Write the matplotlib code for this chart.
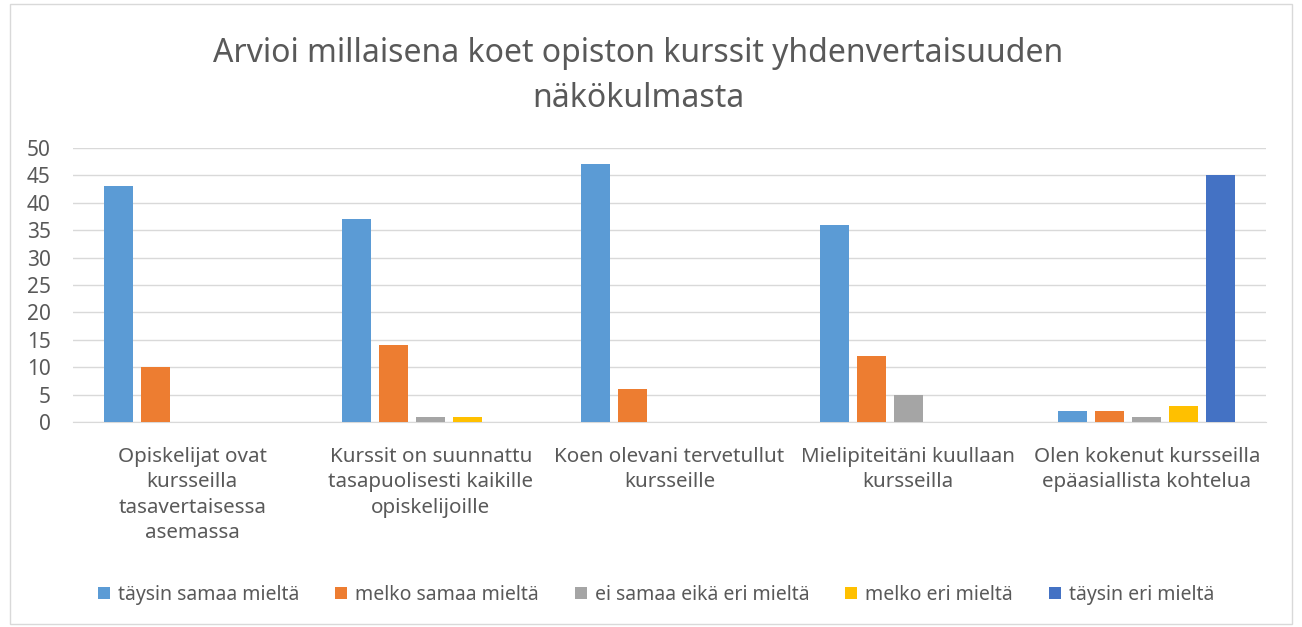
import matplotlib.pyplot as plt
import numpy as np
from matplotlib.patches import Rectangle

categories = [
    "Opiskelijat ovat\nkursseilla\ntasavertaisessa\nasemassa",
    "Kurssit on suunnattu\ntasapuolisesti kaikille\nopiskelijoille",
    "Koen olevani tervetullut\nkursseille",
    "Mielipiteitäni kuullaan\nkursseilla",
    "Olen kokenut kursseilla\nepäasiallista kohtelua",
]
series_names = [
    "täysin samaa mieltä",
    "melko samaa mieltä",
    "ei samaa eikä eri mieltä",
    "melko eri mieltä",
    "täysin eri mieltä",
]
taysin_samaa = [43, 37, 47, 36, 2]
melko_samaa = [10, 14, 6, 12, 2]
ei_samaa_eika_eri = [0, 1, 0, 5, 1]
melko_eri = [0, 1, 0, 0, 3]
taysin_eri = [0, 0, 0, 0, 45]
colors = ["#5B9BD5", "#ED7D31", "#A5A5A5", "#FFC000", "#4472C4"]

plt.rcParams["font.family"] = ["Noto Sans", "DejaVu Sans"]
TXT = "#595959"

fig = plt.figure(figsize=(13.02, 6.27), dpi=100)
fig.patches.append(Rectangle((10 / 1302, 3 / 627), 1282 / 1302, 620 / 627,
                             transform=fig.transFigure, fill=False,
                             edgecolor="#d9d9d9", linewidth=1))
ax = fig.add_axes([73 / 1302, 1 - 422 / 627, (1266 - 73) / 1302, (422 - 148) / 627])

x = np.arange(len(categories))
step = 0.155
width = 0.122
all_series = [taysin_samaa, melko_samaa, ei_samaa_eika_eri, melko_eri, taysin_eri]
for i, (vals, name, c) in enumerate(zip(all_series, series_names, colors)):
    ax.bar(x + (i - 2) * step, vals, width, color=c, label=name, zorder=3)

ax.set_xlim(-0.5, len(categories) - 0.5)
ax.set_ylim(0, 50)
ax.set_yticks(range(0, 51, 5))
ax.yaxis.grid(True, color="#d9d9d9", linewidth=1, zorder=0)
for s in ["top", "right", "left"]:
    ax.spines[s].set_visible(False)
ax.spines["bottom"].set_color("#d9d9d9")
ax.tick_params(axis="y", length=0, labelsize=15, labelcolor=TXT, pad=16)
ax.tick_params(axis="x", length=0, labelsize=14.8, labelcolor=TXT, pad=18)
ax.set_xticks(x)
ax.set_xticklabels(categories, linespacing=1.36)

title_lines = ["Arvioi millaisena koet opiston kurssit yhdenvertaisuuden", "näkökulmasta"]
for line, yb in zip(title_lines, [62, 107]):
    fig.text(638 / 1302, 1 - yb / 627, line, ha="center", va="baseline",
             fontsize=23, color=TXT, fontweight="light")

fig.legend(loc="center", bbox_to_anchor=(656 / 1302, 1 - 595 / 627), ncol=5,
           frameon=False, fontsize=14, labelcolor=TXT,
           handlelength=0.62, handleheight=0.62, handletextpad=0.4, columnspacing=1.85)

fig.savefig("out.png", dpi=100)
